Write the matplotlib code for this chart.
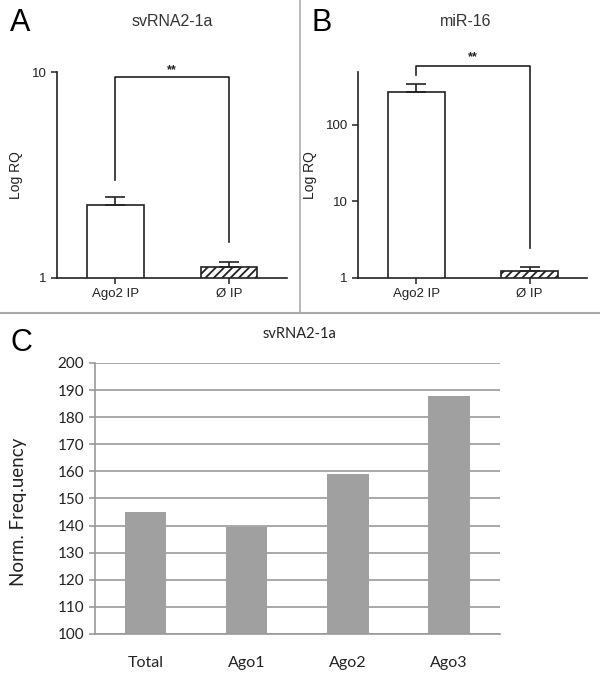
import matplotlib
matplotlib.use("Agg")
import matplotlib.pyplot as plt
from matplotlib.lines import Line2D

# panel A / B data (log RQ)
ip_labels = ["Ago2 IP", "Ø IP"]
svrna_rq = [2.26, 1.13]
svrna_err = [0.21, 0.07]
mir16_rq = [270, 1.23]
mir16_err = [75, 0.16]

# panel C data
groups = ["Total", "Ago1", "Ago2", "Ago3"]
norm_freq = [145, 139.5, 159, 188]

plt.rcParams['font.family'] = ['Liberation Sans', 'DejaVu Sans']
plt.rcParams['hatch.linewidth'] = 1.3

fig = plt.figure(figsize=(6, 6.84), dpi=100)


def ip_panel(ax, vals, errs, ylim, yticks, bracket):
    x = [0, 1]
    ax.bar(x[0], vals[0], width=0.5, bottom=0, color="white", edgecolor="#222222", linewidth=1.2, zorder=2)
    ax.bar(x[1], vals[1], width=0.5, bottom=0, color="white", edgecolor="#222222", linewidth=1.2,
           hatch="////", zorder=2)
    ax.errorbar(x, vals, yerr=[[0, 0], errs], fmt="none", ecolor="#222222", elinewidth=1.2,
                capsize=7, capthick=1.2, zorder=3)
    ax.set_yscale("log")
    ax.set_ylim(*ylim)
    ax.set_xlim(-0.515, 1.51)
    ax.set_yticks(yticks)
    ax.set_yticklabels([str(t) for t in yticks])
    ax.minorticks_off()
    ax.set_xticks(x)
    ax.set_xticklabels(ip_labels)
    ax.tick_params(axis="both", labelsize=9.5, length=4, width=1.1, color="#222222", labelcolor="#222222")
    for s in ["top", "right"]:
        ax.spines[s].set_visible(False)
    for s in ["left", "bottom"]:
        ax.spines[s].set_linewidth(1.2)
        ax.spines[s].set_color("#222222")
    ax.set_ylabel("Log RQ", fontsize=10, color="#222222", labelpad=6)
    top, l_end, r_end, star_y = bracket
    ax.plot([0, 0, 1, 1], [l_end, top, top, r_end], color="#222222", lw=1.2, clip_on=False)
    ax.text(0.5, star_y, "**", ha="center", va="center", fontsize=9, fontweight="bold", color="#222222")


axA = fig.add_axes([0.095, 0.5936, 0.383, 0.301])
ip_panel(axA, svrna_rq, svrna_err, (1, 10), [1, 10], (9.46, 2.99, 1.5, 10.2))

axB = fig.add_axes([0.597, 0.5936, 0.382, 0.301])
ip_panel(axB, mir16_rq, mir16_err, (1, 490), [1, 10, 100], (590, 450, 2.47, 760))

fig.text(172 / 600, 1 - 22 / 684, "svRNA2-1a", ha="center", va="center", fontsize=11.5, color="#333333")
fig.text(466 / 600, 1 - 22 / 684, "miR-16", ha="center", va="center", fontsize=11.5, color="#333333")
fig.text(10 / 600, 1 - 23 / 684, "A", ha="left", va="center", fontsize=22)
fig.text(312 / 600, 1 - 23 / 684, "B", ha="left", va="center", fontsize=22)
fig.text(10 / 600, 1 - 343 / 684, "C", ha="left", va="center", fontsize=22)

# panel separators
sep_y = 1 - 313 / 684
fig.add_artist(Line2D([0, 1], [sep_y, sep_y], color="#aaaaaa", lw=1.5))
fig.add_artist(Line2D([0.5, 0.5], [sep_y, 1], color="#aaaaaa", lw=1.2))

# panel C
axC = fig.add_axes([0.158, 0.0731, 0.675, 0.3962])
xs = range(len(groups))
axC.bar(xs, norm_freq, width=0.41, color="#a0a0a0", zorder=2)
axC.set_ylim(100, 200)
axC.set_xlim(-0.5, 3.5)
axC.set_yticks(range(100, 201, 10))
axC.set_xticks(list(xs))
axC.set_xticklabels(groups)
axC.yaxis.grid(True, color="#999999", lw=1.2)
axC.set_axisbelow(True)
for s in ["top", "right"]:
    axC.spines[s].set_visible(False)
axC.spines["left"].set_color("#999999")
axC.spines["left"].set_linewidth(1.2)
axC.spines["bottom"].set_color("#999999")
axC.spines["bottom"].set_linewidth(1.2)
axC.tick_params(axis="y", length=4, width=1.2, color="#999999", labelsize=11, labelcolor="#222222")
axC.tick_params(axis="x", length=0, labelsize=11.5, labelcolor="#222222", pad=16)
for lab in axC.get_xticklabels() + axC.get_yticklabels():
    lab.set_family(["Lato", "DejaVu Sans"])
axC.set_ylabel("Norm. Freq.uency", fontsize=13.5, family=["Lato", "DejaVu Sans"], color="#222222")
axC.yaxis.set_label_coords(-0.167, 0.45)
fig.text(300 / 600, 1 - 334 / 684, "svRNA2-1a", ha="center", va="center", fontsize=10.5,
         family=["Lato", "DejaVu Sans"], color="#222222")

fig.savefig("out.png", dpi=100)
